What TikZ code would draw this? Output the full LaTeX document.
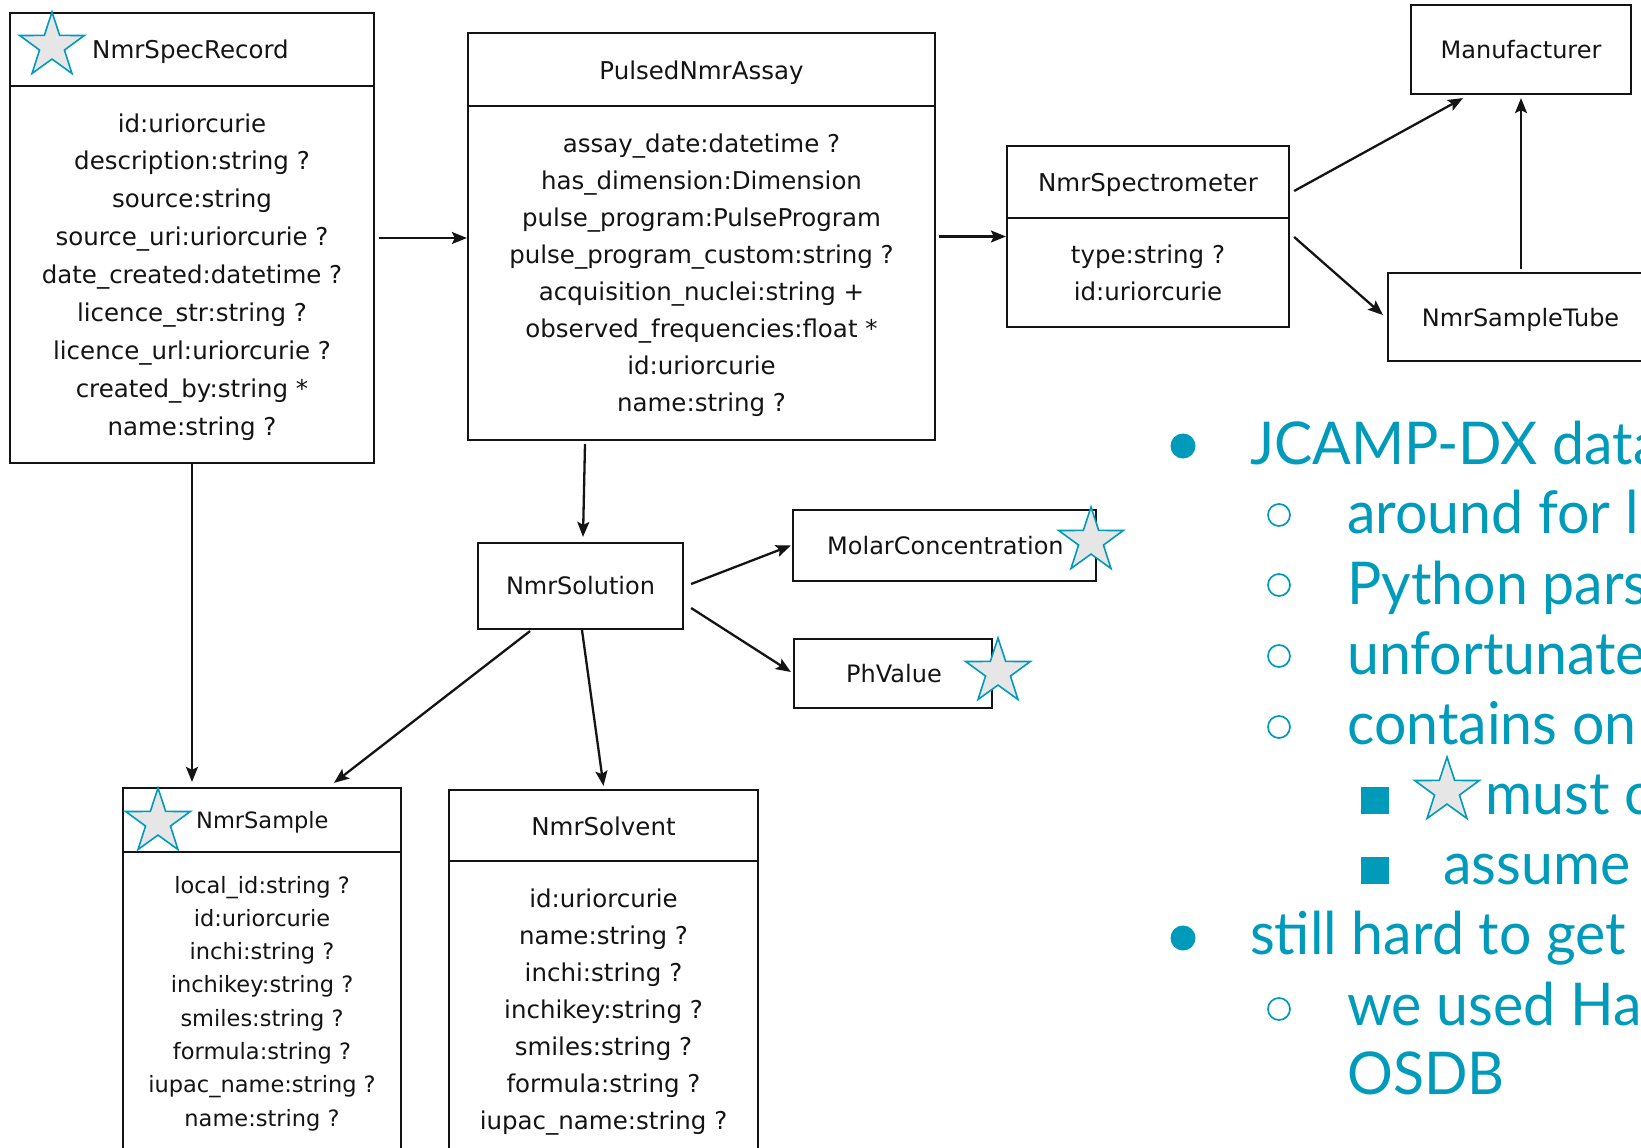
\documentclass[tikz,border=0pt]{standalone}
\usepackage{fontspec}
\setmainfont{DejaVu Sans}
\newfontfamily\slidefont[FakeStretch=0.97]{Lato}
\usetikzlibrary{arrows.meta,shapes.geometric}
\definecolor{tealc}{RGB}{0,155,187}
\definecolor{stargray}{RGB}{230,230,230}
\definecolor{ink}{RGB}{20,20,20}
\begin{document}
\begin{tikzpicture}[x=1pt,y=-1pt,
  cls/.style={draw=ink, line width=2.2pt, fill=white, inner sep=0pt, rectangle},
  sepline/.style={draw=ink, line width=2.2pt},
  arr/.style={draw=ink, line width=2.3pt, -{Stealth[length=15pt,width=12pt,inset=3pt]}},
  txt/.style={inner sep=0pt, text=ink, font=\fontsize{24.5pt}{29pt}\selectfont},
  txtsm/.style={inner sep=0pt, text=ink, font=\fontsize{22.5pt}{27pt}\selectfont},
  txtmd/.style={inner sep=0pt, text=ink, font=\fontsize{24pt}{28pt}\selectfont},
  tstar/.style={star, star points=5, star point ratio=2.6, minimum size=68pt, inner sep=0pt, draw=tealc, fill=stargray, line width=1.6pt},
  slide/.style={inner sep=0pt, anchor=base west, text=tealc, font=\slidefont\fontsize{59pt}{70pt}\selectfont},
  hollow/.style={circle, draw=tealc, line width=1.7pt, minimum size=22pt, inner sep=0pt},
  solid/.style={circle, fill=tealc, minimum size=25pt, inner sep=0pt},
  sqb/.style={rectangle, fill=tealc, minimum width=28pt, minimum height=27pt, inner sep=0pt}
]
\useasboundingbox (0,0) rectangle (1641,1148);
\fill[white] (0,0) rectangle (1641,1148);
\clip (0,0) rectangle (1641,1148);

% ---------- boxes ----------
\node[cls, minimum width=364pt, minimum height=450pt] (rec) at (192,238) {};
\node[cls, minimum width=467pt, minimum height=407pt] (pna) at (701.5,236.5) {};
\node[cls, minimum width=282pt, minimum height=181pt] (spec) at (1148,236.5) {};
\node[cls, minimum width=220pt, minimum height=89pt] (manuf) at (1521,49.5) {};
\node[cls, minimum width=266pt, minimum height=88pt] (tube) at (1521,317) {};
\node[cls, minimum width=205pt, minimum height=86pt] (sol) at (580.5,586) {};
\node[cls, minimum width=303pt, minimum height=71pt] (molar) at (944.5,545.5) {};
\node[cls, minimum width=198pt, minimum height=69pt] (ph) at (893,673.5) {};
\node[cls, minimum width=278pt, minimum height=382pt] (sample) at (262,979) {};
\node[cls, minimum width=309pt, minimum height=380pt] (solvent) at (603.5,980) {};

% header separators
\draw[sepline] (rec.west |- 0,86) -- (rec.east |- 0,86);
\draw[sepline] (pna.west |- 0,106) -- (pna.east |- 0,106);
\draw[sepline] (spec.west |- 0,218) -- (spec.east |- 0,218);
\draw[sepline] (sample.west |- 0,852) -- (sample.east |- 0,852);
\draw[sepline] (solvent.west |- 0,861) -- (solvent.east |- 0,861);

% ---------- titles ----------
\node[txt, anchor=base west] (trec) at (92,59) {NmrSpecRecord};
\node[txt, anchor=base] (tpna) at (701.5,79) {PulsedNmrAssay};
\node[txt, anchor=base] (tspec) at (1148,191) {NmrSpectrometer};
\node[txtmd, anchor=base] (tmanuf) at (1521,59) {Manufacturer};
\node[txtmd, anchor=base] (ttube) at (1520.5,326) {NmrSampleTube};
\node[txtmd, anchor=base] (tsol) at (580.5,594) {NmrSolution};
\node[txtmd, anchor=base west] (tmolar) at (827,554) {MolarConcentration};
\node[txtmd, anchor=base west] (tph) at (846,682) {PhValue};
\node[txtsm, anchor=base west] (tsample) at (196,828) {NmrSample};
\node[txt, anchor=base] (tsolvent) at (603.5,835) {NmrSolvent};

% ---------- attributes ----------
\foreach \t [count=\i from 0] in {id:uriorcurie, description:string ?, source:string,
  source\_uri:uriorcurie ?, date\_created:datetime ?, licence\_str:string ?,
  licence\_url:uriorcurie ?, created\_by:string *, name:string ?}
  \node[txt, anchor=base] (arec\i) at (192,{132+\i*37.9}) {\t};

\foreach \t [count=\i from 0] in {assay\_date:datetime ?, has\_dimension:Dimension,
  pulse\_program:PulseProgram, pulse\_program\_custom:string ?,
  acquisition\_nuclei:string +, observed\_frequencies:float *, id:uriorcurie, name:string ?}
  \node[txt, anchor=base] (apna\i) at (701.5,{152+\i*37.1}) {\t};

\node[txt, anchor=base] (aspec0) at (1148,263) {type:string ?};
\node[txt, anchor=base] (aspec1) at (1148,300) {id:uriorcurie};

\foreach \t [count=\i from 0] in {local\_id:string ?, id:uriorcurie, inchi:string ?,
  inchikey:string ?, smiles:string ?, formula:string ?, iupac\_name:string ?, name:string ?}
  \node[txtsm, anchor=base] (asample\i) at (262,{893+\i*33.3}) {\t};

\foreach \t [count=\i from 0] in {id:uriorcurie, name:string ?, inchi:string ?,
  inchikey:string ?, smiles:string ?, formula:string ?, iupac\_name:string ?}
  \node[txt, anchor=base] (asolv\i) at (603.5,{907+\i*37}) {\t};

% ---------- stars ----------
\node[tstar] (st1) at (52,46) {};
\node[tstar] (st2) at (1091,541) {};
\node[tstar] (st3) at (998,672) {};
\node[tstar] (st4) at (158,822) {};

% ---------- connectors ----------
\draw[arr] ([shift={(4,0)}]rec.east) -- (pna.west |- rec.east);
\draw[arr] ([shift={(3,0)}]pna.east) -- (spec.west);
\draw[arr] ([shift={(4,-45.5)}]spec.east) -- ([shift={(-58,3)}]manuf.south);
\draw[arr] ([shift={(4,0.5)}]spec.east) -- ([shift={(-4,-2)}]tube.west);
\draw[arr] ([shift={(0,-3)}]tube.north) -- ([shift={(0,3)}]manuf.south);
\draw[arr, shorten >=5pt] (rec.south) -- (rec.south |- sample.north);
\draw[arr] ([shift={(-116.5,3)}]pna.south) -- ([shift={(2.5,-5)}]sol.north);
\draw[arr] ([shift={(7,-2)}]sol.east) -- ([shift={(-1,0)}]molar.west);
\draw[arr] ([shift={(7,22)}]sol.east) -- ([shift={(-2,-1.5)}]ph.west);
\draw[arr] ([shift={(1.5,0)}]sol.south) -- ([shift={(0,-3)}]solvent.north);
\draw[arr] ([shift={(-50.5,1)}]sol.south) -- ([shift={(72,-4)}]sample.north);

% ---------- slide bullets ----------
\node[solid] (b1) at (1183,446) {};
\node[slide] (l1) at (1250,464) {JCAMP-DX data};
\node[hollow] (c2) at (1279,515) {};
\node[slide] (l2) at (1347,533) {around for l};
\node[hollow] (c3) at (1279,585) {};
\node[slide] (l3) at (1347,604) {Python pars};
\node[hollow] (c4) at (1279,656) {};
\node[slide] (l4) at (1347,674) {unfortunate};
\node[hollow] (c5) at (1279,727) {};
\node[slide] (l5) at (1347,744) {contains on};
\node[sqb] (q6) at (1375,800.5) {};
\node[tstar] (st5) at (1447,791) {};
\node[slide] (l6) at (1485,814) {must c};
\node[sqb] (q7) at (1375,870.5) {};
\node[slide] (l7) at (1443,884) {assume};
\node[solid] (b8) at (1183,938) {};
\node[slide] (l8) at (1250,954) {still hard to get};
\node[hollow] (c9) at (1279,1009) {};
\node[slide] (l9) at (1347,1025) {we used Ha};
\node[slide] (l10) at (1347,1094) {OSDB};
\end{tikzpicture}
\end{document}
